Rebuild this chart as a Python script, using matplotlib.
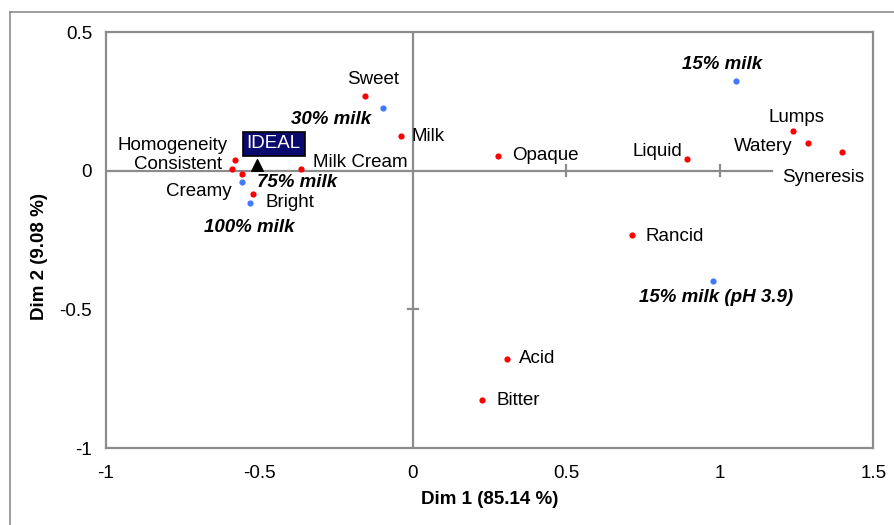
import matplotlib
matplotlib.use('Agg')
import matplotlib.pyplot as plt
from matplotlib.lines import Line2D

plt.rcParams['font.family'] = ['Liberation Sans', 'DejaVu Sans']

# attributes (red)
attr_names = ['Sweet', 'Milk', 'Homogeneity', 'Consistent', 'Creamy', 'Bright',
              'Milk Cream', 'Opaque', 'Liquid', 'Lumps', 'Watery', 'Syneresis',
              'Rancid', 'Acid', 'Bitter']
attr_x = [-0.156, -0.039, -0.580, -0.590, -0.556, -0.522, -0.364, 0.277, 0.894,
          1.237, 1.288, 1.398, 0.712, 0.307, 0.225]
attr_y = [0.269, 0.125, 0.039, 0.005, -0.012, -0.084, 0.007, 0.053, 0.041,
          0.143, 0.099, 0.067, -0.232, -0.679, -0.827]

# products (blue)
prod_names = ['30% milk', '75% milk', '100% milk', '15% milk', '15% milk (pH 3.9)']
prod_x = [-0.098, -0.558, -0.531, 1.052, 0.978]
prod_y = [0.226, -0.041, -0.118, 0.325, -0.398]

ideal_x, ideal_y = -0.509, 0.021

# label offsets in pixels (dx, dy, ha)
attr_off = {
    'Sweet': (8, 17, 'center'), 'Milk': (10, 0, 'left'),
    'Homogeneity': (-7, 14, 'right'), 'Consistent': (-10, 5, 'right'),
    'Creamy': (-11, -18, 'right'), 'Bright': (13, -9, 'left'),
    'Milk Cream': (12, 6, 'left'), 'Opaque': (14, 0, 'left'),
    'Liquid': (-5, 8, 'right'), 'Lumps': (4, 14, 'center'),
    'Watery': (-16, -3, 'right'), 'Syneresis': (-19, -25, 'center'),
    'Rancid': (14, -1, 'left'), 'Acid': (12, 0, 'left'), 'Bitter': (14, 0, 'left'),
}
prod_off = {
    '30% milk': (-52, -12, 'center'), '75% milk': (15, 0, 'left'),
    '100% milk': (-1, -24, 'center'), '15% milk': (-14, 16, 'center'),
    '15% milk (pH 3.9)': (-74, -16, 'left'),
}

fs = 13.5

fig = plt.figure(figsize=(8.95, 5.25), dpi=100)
ax = fig.add_axes([106/895, 1-448/525, (873.5-106)/895, (448-32)/525])

gray = '#8c8c8c'
# horizontal zero line stops before the Syneresis label
ax.axhline(0, xmax=(1.17 + 1) / 2.5, color=gray, lw=1.6, zorder=1)
ax.axvline(0, color=gray, lw=1.6, zorder=1)
# small cross ticks on the zero lines
for t in [0.5, 1.0]:
    ax.plot([t, t], [-0.02, 0.02], color=gray, lw=1.6, zorder=1)
ax.plot([-0.017, 0.017], [-0.5, -0.5], color=gray, lw=1.6, zorder=1)

ax.scatter(attr_x, attr_y, s=20, color='#ff0000', zorder=3, linewidths=0)
ax.scatter(prod_x, prod_y, s=20, color='#4477ff', zorder=3, linewidths=0)
ax.scatter([ideal_x], [ideal_y], marker='^', s=70, color='black', zorder=4)

for n, x, y in zip(attr_names, attr_x, attr_y):
    dx, dy, ha = attr_off[n]
    ax.annotate(n, (x, y), xytext=(dx, dy), textcoords='offset pixels',
                ha=ha, va='center', fontsize=fs, zorder=5)

for n, x, y in zip(prod_names, prod_x, prod_y):
    dx, dy, ha = prod_off[n]
    ax.annotate(n, (x, y), xytext=(dx, dy), textcoords='offset pixels',
                ha=ha, va='center', fontsize=fs, fontweight='bold',
                fontstyle='italic', zorder=5)

ax.annotate('IDEAL', (ideal_x, ideal_y), xytext=(17, 21), textcoords='offset pixels',
            ha='center', va='center', fontsize=fs, color='white', zorder=6,
            bbox=dict(boxstyle='square,pad=0.2', facecolor='#0a0a6e',
                      edgecolor='black', lw=1.2))

ax.set_xlim(-1, 1.5)
ax.set_ylim(-1, 0.5)
ax.set_xticks([-1, -0.5, 0, 0.5, 1, 1.5])
ax.set_xticklabels(['-1', '-0.5', '0', '0.5', '1', '1.5'])
ax.set_yticks([-1, -0.5, 0, 0.5])
ax.set_yticklabels(['-1', '-0.5', '0', '0.5'])
ax.tick_params(axis='both', length=0, labelsize=fs)
ax.tick_params(axis='x', pad=12)
ax.tick_params(axis='y', pad=10)
for s in ax.spines.values():
    s.set_color(gray)
    s.set_linewidth(1.6)

fig.text(490/895, 1-500/525, 'Dim 1 (85.14 %)', ha='center', va='center',
         fontsize=13.5, fontweight='bold')
fig.text(40/895, 1-257/525, 'Dim 2 (9.08 %)', ha='center', va='center',
         fontsize=13.5, fontweight='bold', rotation=90)

# outer frame
fig.add_artist(Line2D([10/895, 1], [1-12/525, 1-12/525], color=gray, lw=1.2))
fig.add_artist(Line2D([10/895, 10/895], [0, 1-12/525], color=gray, lw=1.2))

fig.savefig('out.png', dpi=100)
